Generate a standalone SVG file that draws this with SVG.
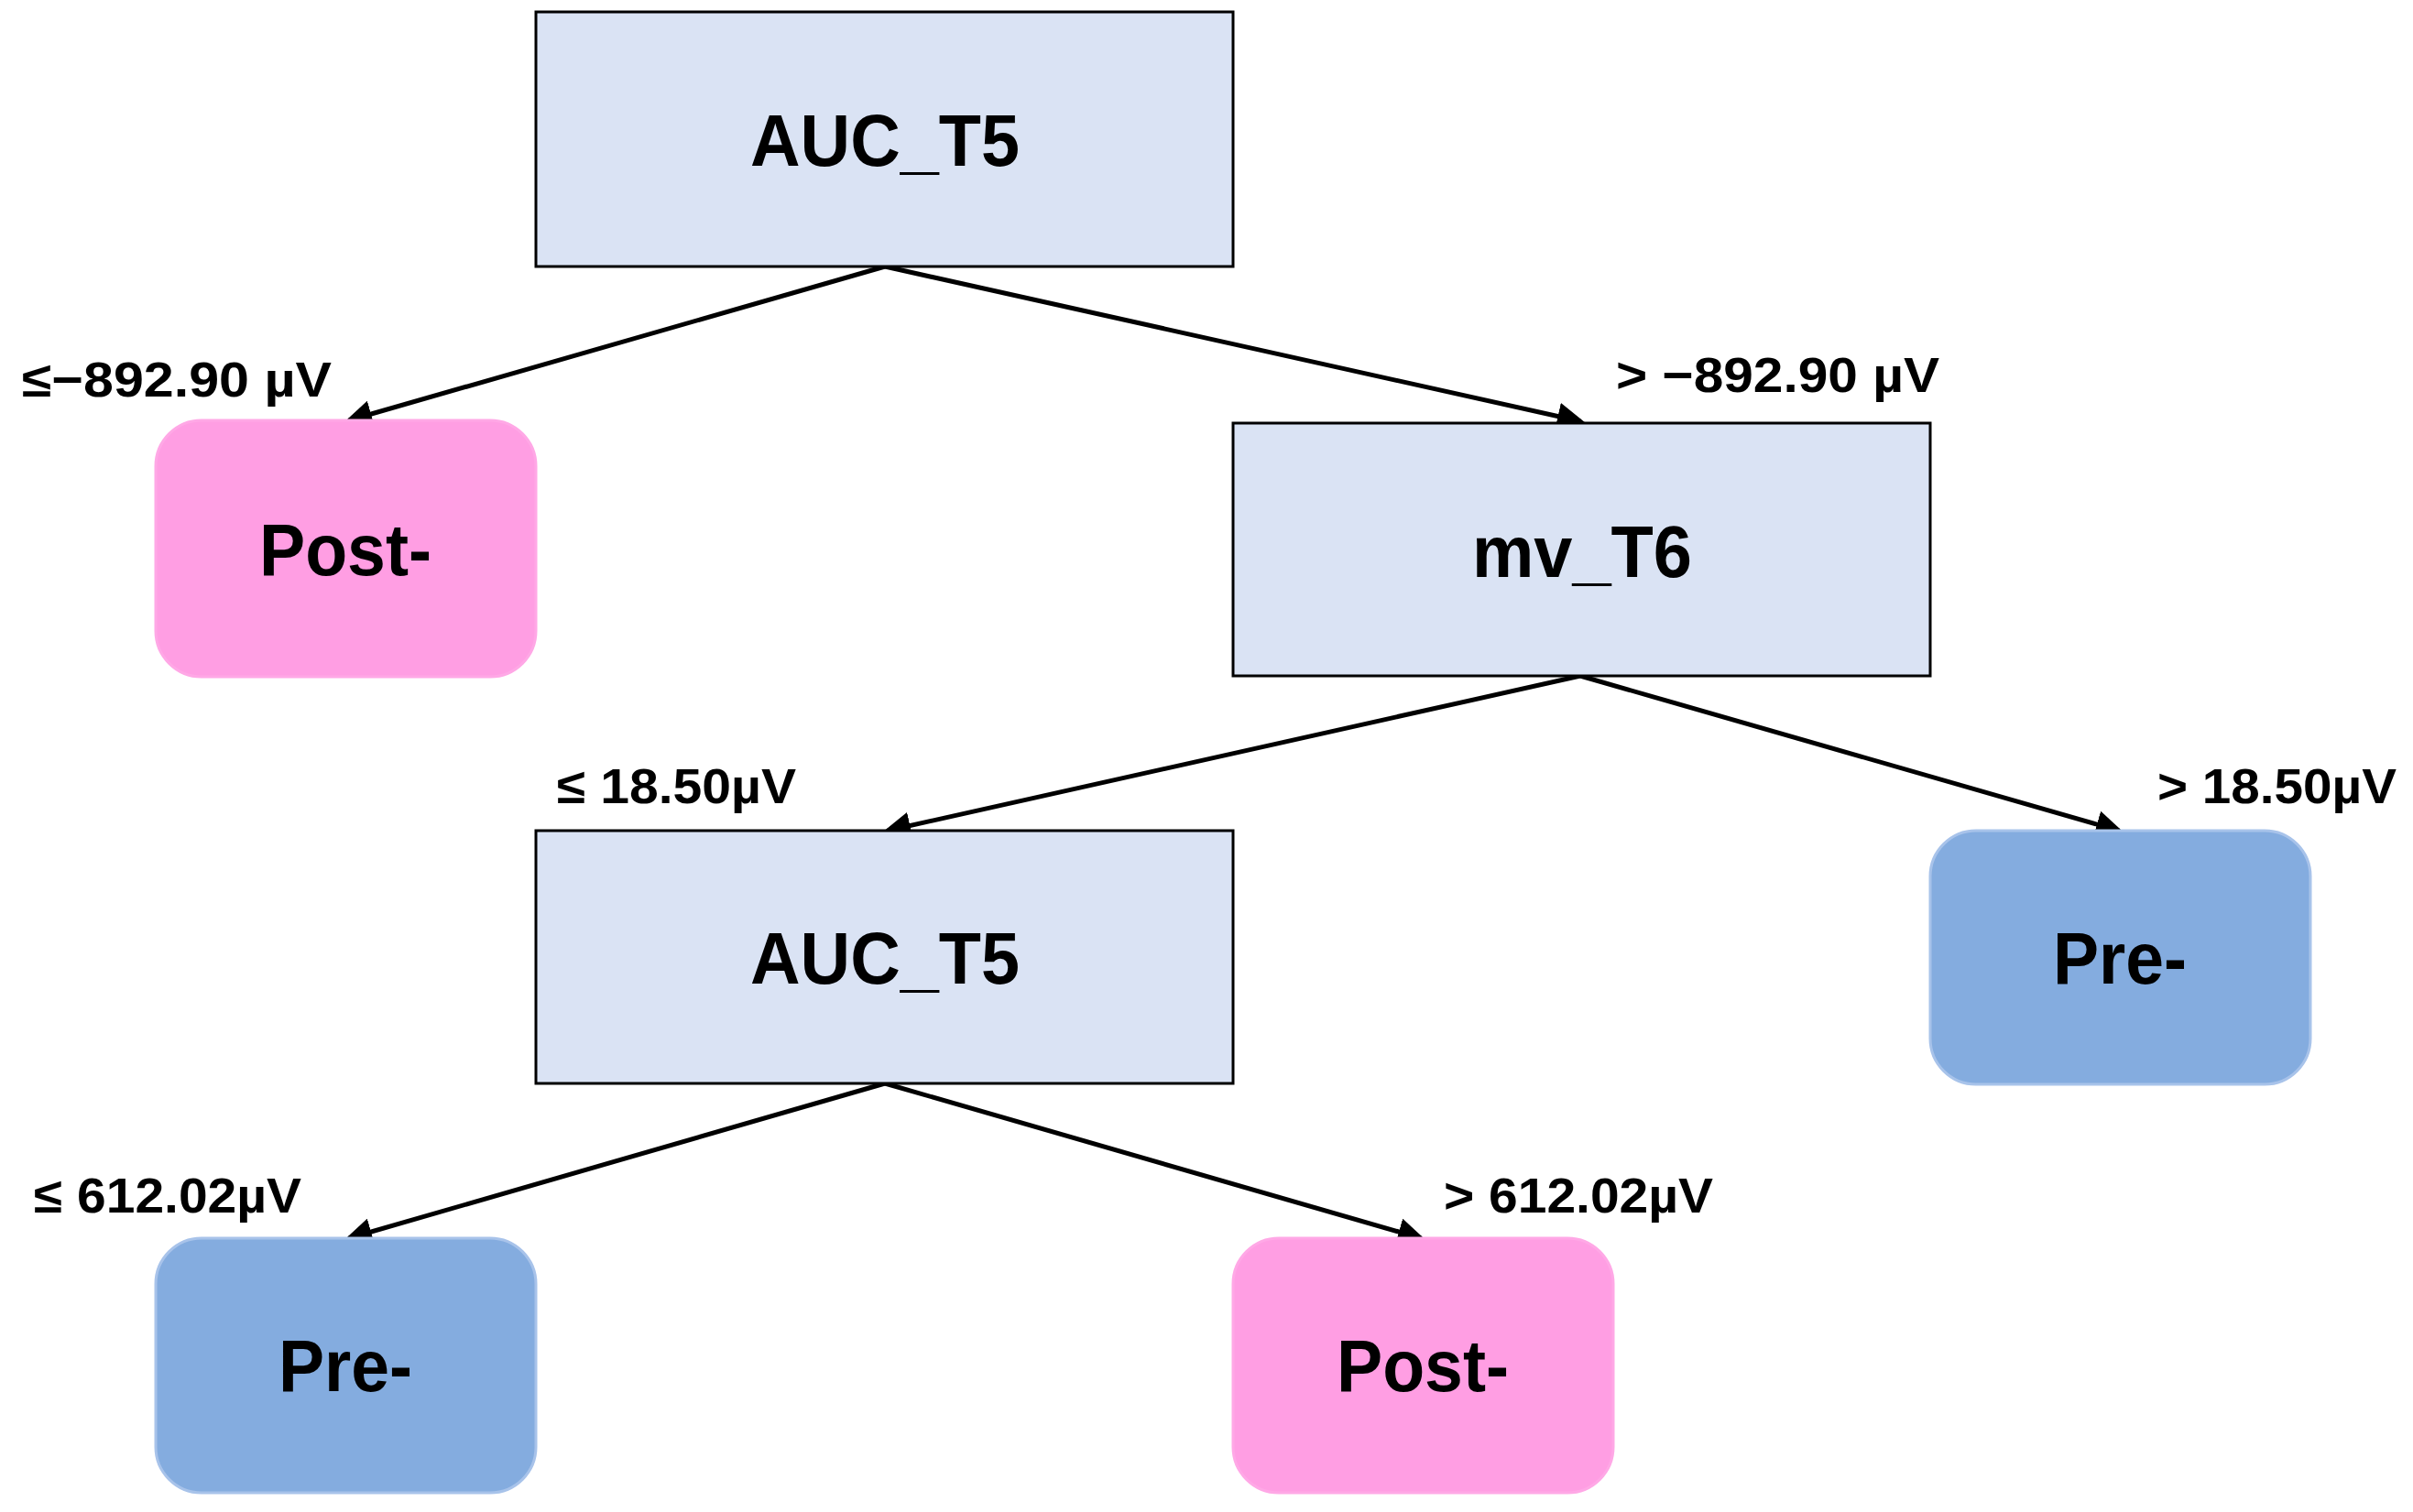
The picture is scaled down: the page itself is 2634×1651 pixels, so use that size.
<svg xmlns="http://www.w3.org/2000/svg" width="2634" height="1651" viewBox="0 0 2634 1651">
<style>
.split{fill:#dae3f4;stroke:#000;stroke-width:3}
.post{fill:#ff9ee3;stroke:#ffa8e6;stroke-width:3}
.pre{fill:#84acdf;stroke:#a8c3ea;stroke-width:3}
.nt{font-family:"Liberation Sans",Arial,sans-serif;font-weight:bold;font-size:80px;text-anchor:middle;fill:#000}
.lt{font-family:"Liberation Sans",Arial,sans-serif;font-weight:bold;font-size:54px;fill:#000}
.edge{stroke:#000;stroke-width:5;fill:none;marker-end:url(#ah)}
</style>
<defs>
<marker id="ah" markerWidth="6" markerHeight="6" refX="5" refY="3" orient="auto" markerUnits="strokeWidth">
<path d="M0,0 L6,3 L0,6 z" fill="#000"/>
</marker>
</defs>
<rect width="2634" height="1651" fill="#fff"/>
<g id="connectors">
<line class="edge" x1="966" y1="291" x2="381" y2="459"/>
<line class="edge" x1="966" y1="291" x2="1725" y2="460"/>
<line class="edge" x1="1725" y1="738" x2="969" y2="907"/>
<line class="edge" x1="1725" y1="738" x2="2313" y2="907"/>
<line class="edge" x1="966" y1="1183" x2="381" y2="1352"/>
<line class="edge" x1="966" y1="1183" x2="1551" y2="1352"/>
<text class="lt" x="24" y="433" textLength="338" lengthAdjust="spacingAndGlyphs">≤−892.90 µV</text>
<text class="lt" x="1764" y="428" textLength="353" lengthAdjust="spacingAndGlyphs">&gt; −892.90 µV</text>
<text class="lt" x="608" y="877" textLength="261" lengthAdjust="spacingAndGlyphs">≤ 18.50µV</text>
<text class="lt" x="2355" y="877" textLength="261" lengthAdjust="spacingAndGlyphs">&gt; 18.50µV</text>
<text class="lt" x="37" y="1324" textLength="292" lengthAdjust="spacingAndGlyphs">≤ 612.02µV</text>
<text class="lt" x="1576" y="1324" textLength="294" lengthAdjust="spacingAndGlyphs">&gt; 612.02µV</text>
</g>
<g id="n1"><rect class="split" x="585" y="13" width="761" height="278"/><text class="nt" x="966" y="181" textLength="294" lengthAdjust="spacingAndGlyphs">AUC_T5</text></g>
<g id="n2"><rect class="post" x="170" y="459" width="415" height="280" rx="50"/><text class="nt" x="377" y="628" textLength="188" lengthAdjust="spacingAndGlyphs">Post-</text></g>
<g id="n3"><rect class="split" x="1346" y="462" width="761" height="276"/><text class="nt" x="1727" y="630" textLength="240" lengthAdjust="spacingAndGlyphs">mv_T6</text></g>
<g id="n4"><rect class="split" x="585" y="907" width="761" height="276"/><text class="nt" x="966" y="1074" textLength="294" lengthAdjust="spacingAndGlyphs">AUC_T5</text></g>
<g id="n5"><rect class="pre" x="2107" y="907" width="415" height="277" rx="50"/><text class="nt" x="2314" y="1074" textLength="146" lengthAdjust="spacingAndGlyphs">Pre-</text></g>
<g id="n6"><rect class="pre" x="170" y="1352" width="415" height="278" rx="50"/><text class="nt" x="377" y="1519" textLength="146" lengthAdjust="spacingAndGlyphs">Pre-</text></g>
<g id="n7"><rect class="post" x="1346" y="1352" width="415" height="278" rx="50"/><text class="nt" x="1553" y="1519" textLength="188" lengthAdjust="spacingAndGlyphs">Post-</text></g>
</svg>
